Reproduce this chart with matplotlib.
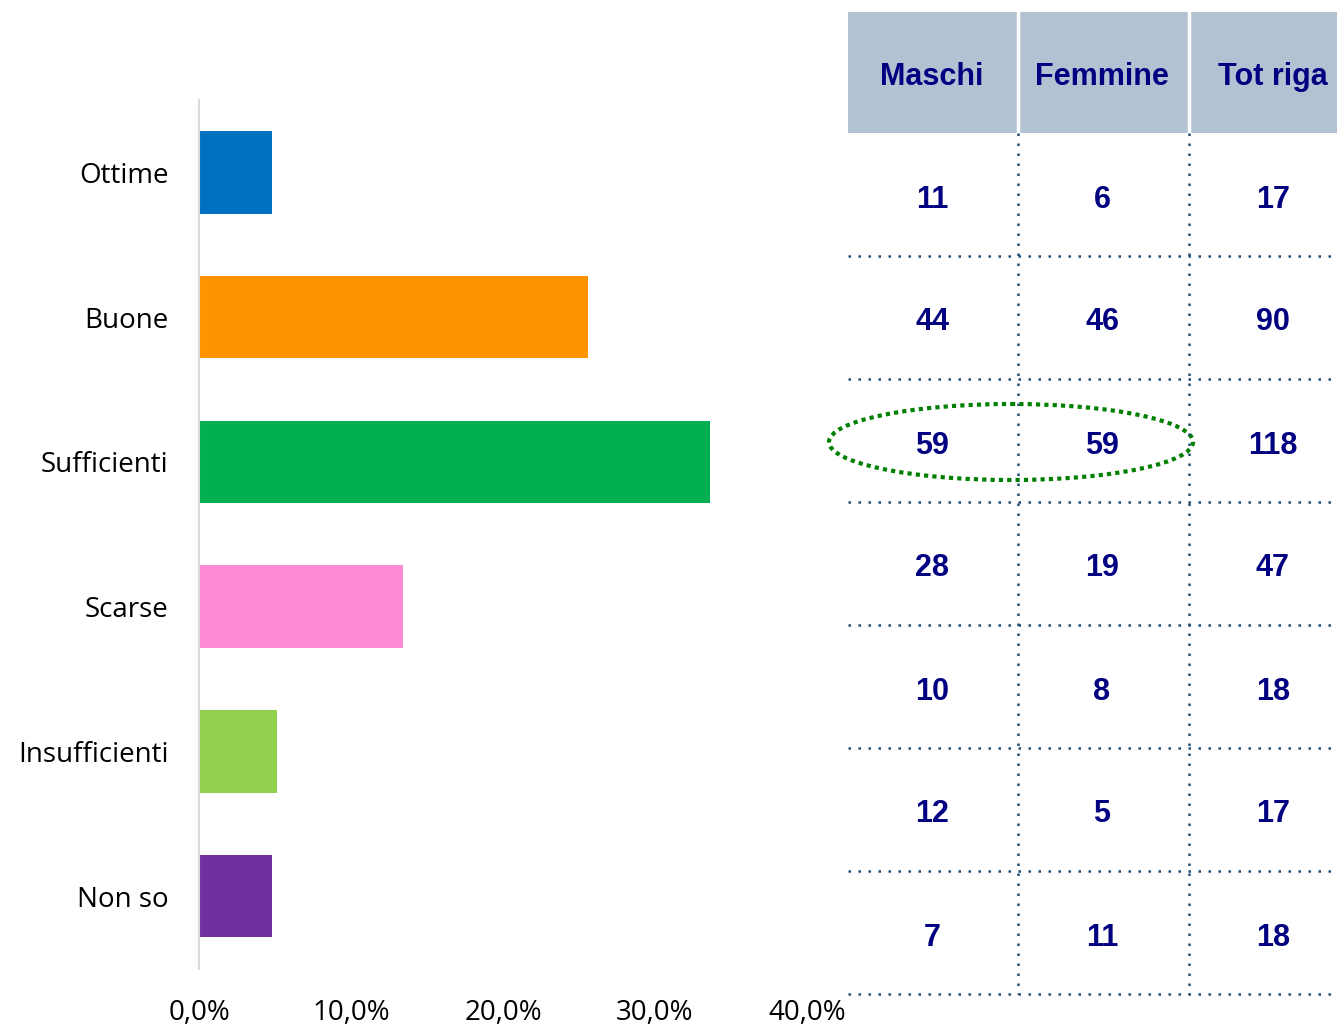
import matplotlib.pyplot as plt
from matplotlib.patches import Ellipse, Rectangle

categories = ['Ottime', 'Buone', 'Sufficienti', 'Scarse', 'Insufficienti', 'Non so']
percent = [4.8, 25.6, 33.6, 13.4, 5.1, 4.8]
bar_colors = ['#0070C0', '#FF9400', '#00B050', '#FF8AD8', '#92D050', '#7030A0']
x_ticks = [0, 10, 20, 30, 40]
x_tick_labels = ['0,0%', '10,0%', '20,0%', '30,0%', '40,0%']

table_header = ['Maschi', 'Femmine', 'Tot riga']
maschi = [11, 44, 59, 28, 10, 12, 7]
femmine = [6, 46, 59, 19, 8, 5, 11]
tot_riga = [17, 90, 118, 47, 18, 17, 18]

W, H = 1337, 1027
fig = plt.figure(figsize=(W / 100, H / 100), dpi=100)

# bar chart
ax = fig.add_axes([199 / W, 1 - 968.5 / H, (807 - 199) / W, 868.5 / H])
ax.barh(range(len(categories)), percent, height=0.57, color=bar_colors)
ax.set_ylim(len(categories) - 0.5, -0.5)
ax.set_xlim(0, 40)
ax.set_yticks(range(len(categories)))
ax.set_yticklabels(categories, fontsize=20, family='Open Sans')
ax.set_xticks(x_ticks)
ax.set_xticklabels(x_tick_labels, fontsize=20, family='Open Sans')
ax.tick_params(axis='both', length=0)
ax.tick_params(axis='y', pad=22)
ax.tick_params(axis='x', pad=22)
for s in ['top', 'right', 'bottom']:
    ax.spines[s].set_visible(False)
ax.spines['left'].set_color('#D9D9D9')
ax.spines['left'].set_linewidth(1.5)

# table drawn in pixel coordinates
tx = fig.add_axes([0, 0, 1, 1])
tx.set_xlim(0, W)
tx.set_ylim(H, 0)
tx.axis('off')
tx.patch.set_alpha(0)

col_edges = [848, 1018, 1189, 1337]
col_centers = [932, 1102, 1273]
header_top, header_bottom = 12, 133
row_h = 123

tx.add_patch(Rectangle((col_edges[0], header_top), col_edges[-1] - col_edges[0],
                       header_bottom - header_top, facecolor='#B2C2D2', edgecolor='none'))
for xe in col_edges[1:3]:
    tx.plot([xe, xe], [header_top, header_bottom], color='white', lw=2.5)
for xc, name in zip(col_centers, table_header):
    tx.text(xc, 77, name, ha='center', va='center', fontsize=22, fontweight='bold',
            color='#000080', family='Liberation Sans')

navy_dot = '#1F4E79'
n_rows = len(maschi)
for i in range(n_rows):
    yc = header_bottom + row_h * (i + 0.5) + 5
    for xc, v in zip(col_centers, [maschi[i], femmine[i], tot_riga[i]]):
        tx.text(xc, yc, str(v), ha='center', va='center', fontsize=22, fontweight='bold',
                color='#000080', family='Liberation Sans')
    yl = header_bottom + row_h * (i + 1)
    tx.plot([col_edges[0], col_edges[-1]], [yl, yl], color=navy_dot, lw=1.8,
            linestyle=(0, (1, 3)))
for xe in col_edges[1:3]:
    tx.plot([xe, xe], [header_bottom, header_bottom + row_h * n_rows], color=navy_dot,
            lw=1.8, linestyle=(0, (1, 3)))

tx.add_patch(Ellipse((1011, 442), 364, 76, fill=False, edgecolor='#008000', lw=3,
                     linestyle=(0, (1, 1))))

fig.savefig('out.png', dpi=100)
